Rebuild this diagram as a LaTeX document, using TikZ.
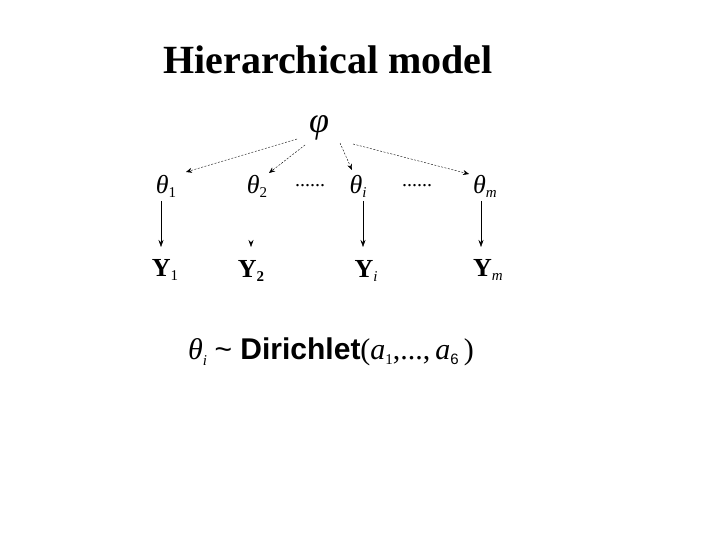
\documentclass[tikz,border=0pt]{standalone}
\usepackage{fontspec}
\usetikzlibrary{arrows.meta}
\setmainfont{Liberation Serif}
\newfontfamily\arialf{Liberation Sans}
\begin{document}
\begin{tikzpicture}[x=1pt,y=-1pt,
 lab/.style={inner sep=0pt,font=\fontsize{26}{28}\selectfont},
 yl/.style={inner sep=0pt,font=\fontsize{26}{28}\selectfont\bfseries},
 da/.style={dash pattern=on 2pt off 1.5pt,-{Stealth[length=6pt,width=5pt]}},
 sa/.style={-{Stealth[length=7pt,width=5pt]}}]
\useasboundingbox (0,0) rectangle (720,540);
\node[inner sep=0pt,font=\fontsize{40}{42}\selectfont\bfseries] (title) at (328,60) {Hierarchical model};
\node[lab,font=\fontsize{36}{38}\selectfont\itshape] (phi) at (319,128) {φ};
\node[lab] (t1) at (166,186) {\textit{θ}\fontsize{15}{16}\selectfont\raisebox{-4pt}{1}};
\node[lab] (t2) at (257,186) {\textit{θ}\fontsize{15}{16}\selectfont\raisebox{-4pt}{2}};
\node[lab] (ti) at (358,186) {\textit{θ}\fontsize{15}{16}\selectfont\raisebox{-4pt}{\textit{i}}};
\node[lab] (tm) at (485,186) {\textit{θ}\fontsize{15}{16}\selectfont\raisebox{-4pt}{\textit{m}}};
\node[lab,font=\fontsize{20}{22}\selectfont] (d1) at (310,186) {......};
\node[lab,font=\fontsize{20}{22}\selectfont] (d2) at (417,186) {......};
\node[yl] (y1) at (165,270) {Y\fontsize{15}{16}\selectfont\mdseries\raisebox{-4pt}{1}};
\node[yl] (y2) at (251,271) {Y\fontsize{15}{16}\selectfont\raisebox{-4pt}{2}};
\node[yl] (yi) at (366,271) {Y\fontsize{15}{16}\selectfont\mdseries\raisebox{-4pt}{\textit{i}}};
\node[yl] (ym) at (488,270) {Y\fontsize{15}{16}\selectfont\mdseries\raisebox{-4pt}{\textit{m}}};
\coordinate (p1) at (297,139);
\coordinate (p2) at (305,145);
\coordinate (p3) at (340,143);
\coordinate (p4) at (353,144);
\coordinate (e1) at (186,172);
\coordinate (e2) at (269,173);
\coordinate (e3) at (352,170);
\coordinate (e4) at (469,174);
\coordinate (a1) at (161,201); \coordinate (b1) at (161,247);
\coordinate (a2) at (251,243); \coordinate (b2) at (251,247);
\coordinate (a3) at (363,201); \coordinate (b3) at (363,247);
\coordinate (a4) at (481,201); \coordinate (b4) at (481,247);
\draw[da] (p1) -- (e1);
\draw[da] (p2) -- (e2);
\draw[da] (p3) -- (e3);
\draw[da] (p4) -- (e4);
\draw[sa] (a1) -- (b1);
\draw[sa] (a2) -- (b2);
\draw[sa] (a3) -- (b3);
\draw[sa] (a4) -- (b4);
\node[lab,font=\fontsize{30}{32}\selectfont,anchor=west] (f) at (188,352) {\textit{θ}\fontsize{15}{16}\selectfont\raisebox{-6pt}{\textit{i}}\fontsize{30}{32}\selectfont\ \arialf\textasciitilde\ \textbf{Dirichlet}\rmfamily(\textit{a}\fontsize{15}{16}\selectfont\raisebox{-5pt}{1}\fontsize{30}{32}\selectfont,...,\,\textit{a}\fontsize{15}{16}\selectfont\raisebox{-5pt}{\arialf 6}\fontsize{30}{32}\selectfont\,)};
\end{tikzpicture}
\end{document}
